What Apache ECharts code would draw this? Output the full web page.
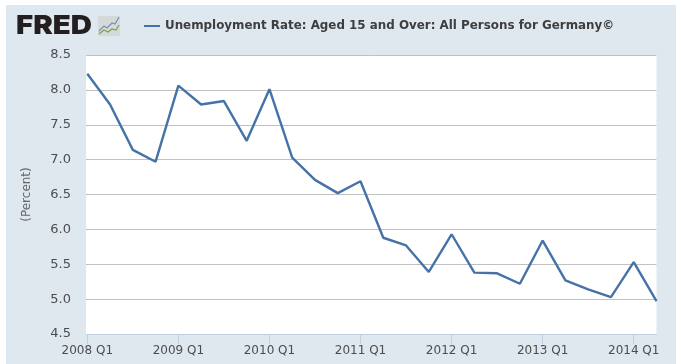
<!DOCTYPE html>
<html>
<head>
<meta charset="utf-8">
<title>FRED chart</title>
<script src="https://cdn.jsdelivr.net/npm/echarts@6/dist/echarts.min.js"></script>
<style>
html, body { margin: 0; padding: 0; background: #fff; }
#chart { width: 681px; height: 364px; }
</style>
</head>
<body>
<div id="chart"></div>
<script>
//series name and values, one per quarter from 2008 Q1 to 2014 Q2
var seriesName = "Unemployment Rate: Aged 15 and Over: All Persons for Germany©";
var quarters = ["2008 Q1","2008 Q2","2008 Q3","2008 Q4","2009 Q1","2009 Q2","2009 Q3","2009 Q4",
	"2010 Q1","2010 Q2","2010 Q3","2010 Q4","2011 Q1","2011 Q2","2011 Q3","2011 Q4",
	"2012 Q1","2012 Q2","2012 Q3","2012 Q4","2013 Q1","2013 Q2","2013 Q3","2013 Q4",
	"2014 Q1","2014 Q2"];
var rates = [8.23,7.79,7.14,6.97,8.06,7.79,7.84,7.27,
	8.01,7.03,6.71,6.52,6.69,5.88,5.77,5.39,
	5.93,5.38,5.37,5.22,5.84,5.27,5.14,5.03,
	5.53,4.97];
var tickQuarters = ["2008 Q1","2009 Q1","2010 Q1","2011 Q1","2012 Q1","2013 Q1","2014 Q1"];
var yUnit = "(Percent)";

var font = "'DejaVu Sans', Verdana, sans-serif";
var tickIndex = tickQuarters.map(function (q) { return quarters.indexOf(q); });
var points = rates.map(function (v, i) { return [i, v]; });

var container = echarts.init(document.getElementById("chart"));
var option = {
	animation: false,
	grid: {
		left: 86,
		top: 55,
		width: 570.5,
		height: 279,
		show: true,
		backgroundColor: "#fff",
		borderWidth: 0
	},
	legend: {
		left: 139,
		top: 15,
		icon: "rect",
		itemWidth: 16,
		itemHeight: 2,
		textStyle: { fontFamily: font, fontSize: 11.9, fontWeight: "bold", color: "#3e3e3e" }
	},
	xAxis: {
		type: "value",
		min: -0.057,
		max: quarters.length - 1,
		splitLine: { show: false },
		axisLine: { show: true, onZero: false, lineStyle: { color: "#c0d0e0", width: 1 } },
		axisTick: { show: true, length: 10, customValues: tickIndex, lineStyle: { color: "#c0d0e0", width: 1 } },
		axisLabel: {
			customValues: tickIndex,
			margin: 11,
			fontFamily: font,
			fontSize: 12,
			color: "#4d4d4d",
			formatter: function (v) { return quarters[v]; }
		}
	},
	yAxis: {
		type: "value",
		min: 4.5,
		max: 8.5,
		interval: 0.5,
		name: yUnit,
		nameLocation: "middle",
		nameGap: 53,
		nameTextStyle: { fontFamily: font, fontSize: 12, color: "#666" },
		axisLine: { show: false },
		axisTick: { show: false },
		splitLine: { lineStyle: { color: "#c0c0c0", width: 1 } },
		axisLabel: {
			margin: 15,
			padding: [2, 0, 0, 0],
			fontFamily: font,
			fontSize: 13,
			color: "#4d4d4d",
			formatter: function (v) { return v.toFixed(1); }
		}
	},
	series: [{
		name: seriesName,
		type: "line",
		data: points,
		showSymbol: false,
		symbol: "none",
		lineStyle: { color: "#4572a7", width: 2.4 },
		itemStyle: { color: "#4572a7" }
	}],
	graphic: [
		//panel behind the chart
		{ type: "rect", z: -10, silent: true, shape: { x: 6, y: 5, width: 670, height: 359 }, style: { fill: "#dfe7ef" } },
		//FRED logo
		{ type: "text", z: 5, silent: true, x: 16, y: 26.5, scaleX: 1.13, style: { text: "FRED", verticalAlign: "middle", fontFamily: "Inter, 'Liberation Sans', sans-serif", fontWeight: 900, fontSize: 26, fill: "#231f20" } },
		{ type: "rect", z: 5, silent: true, shape: { x: 98, y: 16, width: 22, height: 20, r: 1 }, style: { fill: "#d5dad9" } },
		{ type: "polyline", z: 6, silent: true, shape: { points: [[99,31],[104,26],[107,28],[112,23],[115,24],[119,17]] }, style: { stroke: "#6f94b8", lineWidth: 1.2, fill: null } },
		{ type: "polyline", z: 6, silent: true, shape: { points: [[99,34],[104,30],[108,32],[112,29],[116,30],[119,25]] }, style: { stroke: "#7fa04a", lineWidth: 1.2, fill: null } }
	]
};
container.setOption(option, true);
</script>
</body>
</html>
